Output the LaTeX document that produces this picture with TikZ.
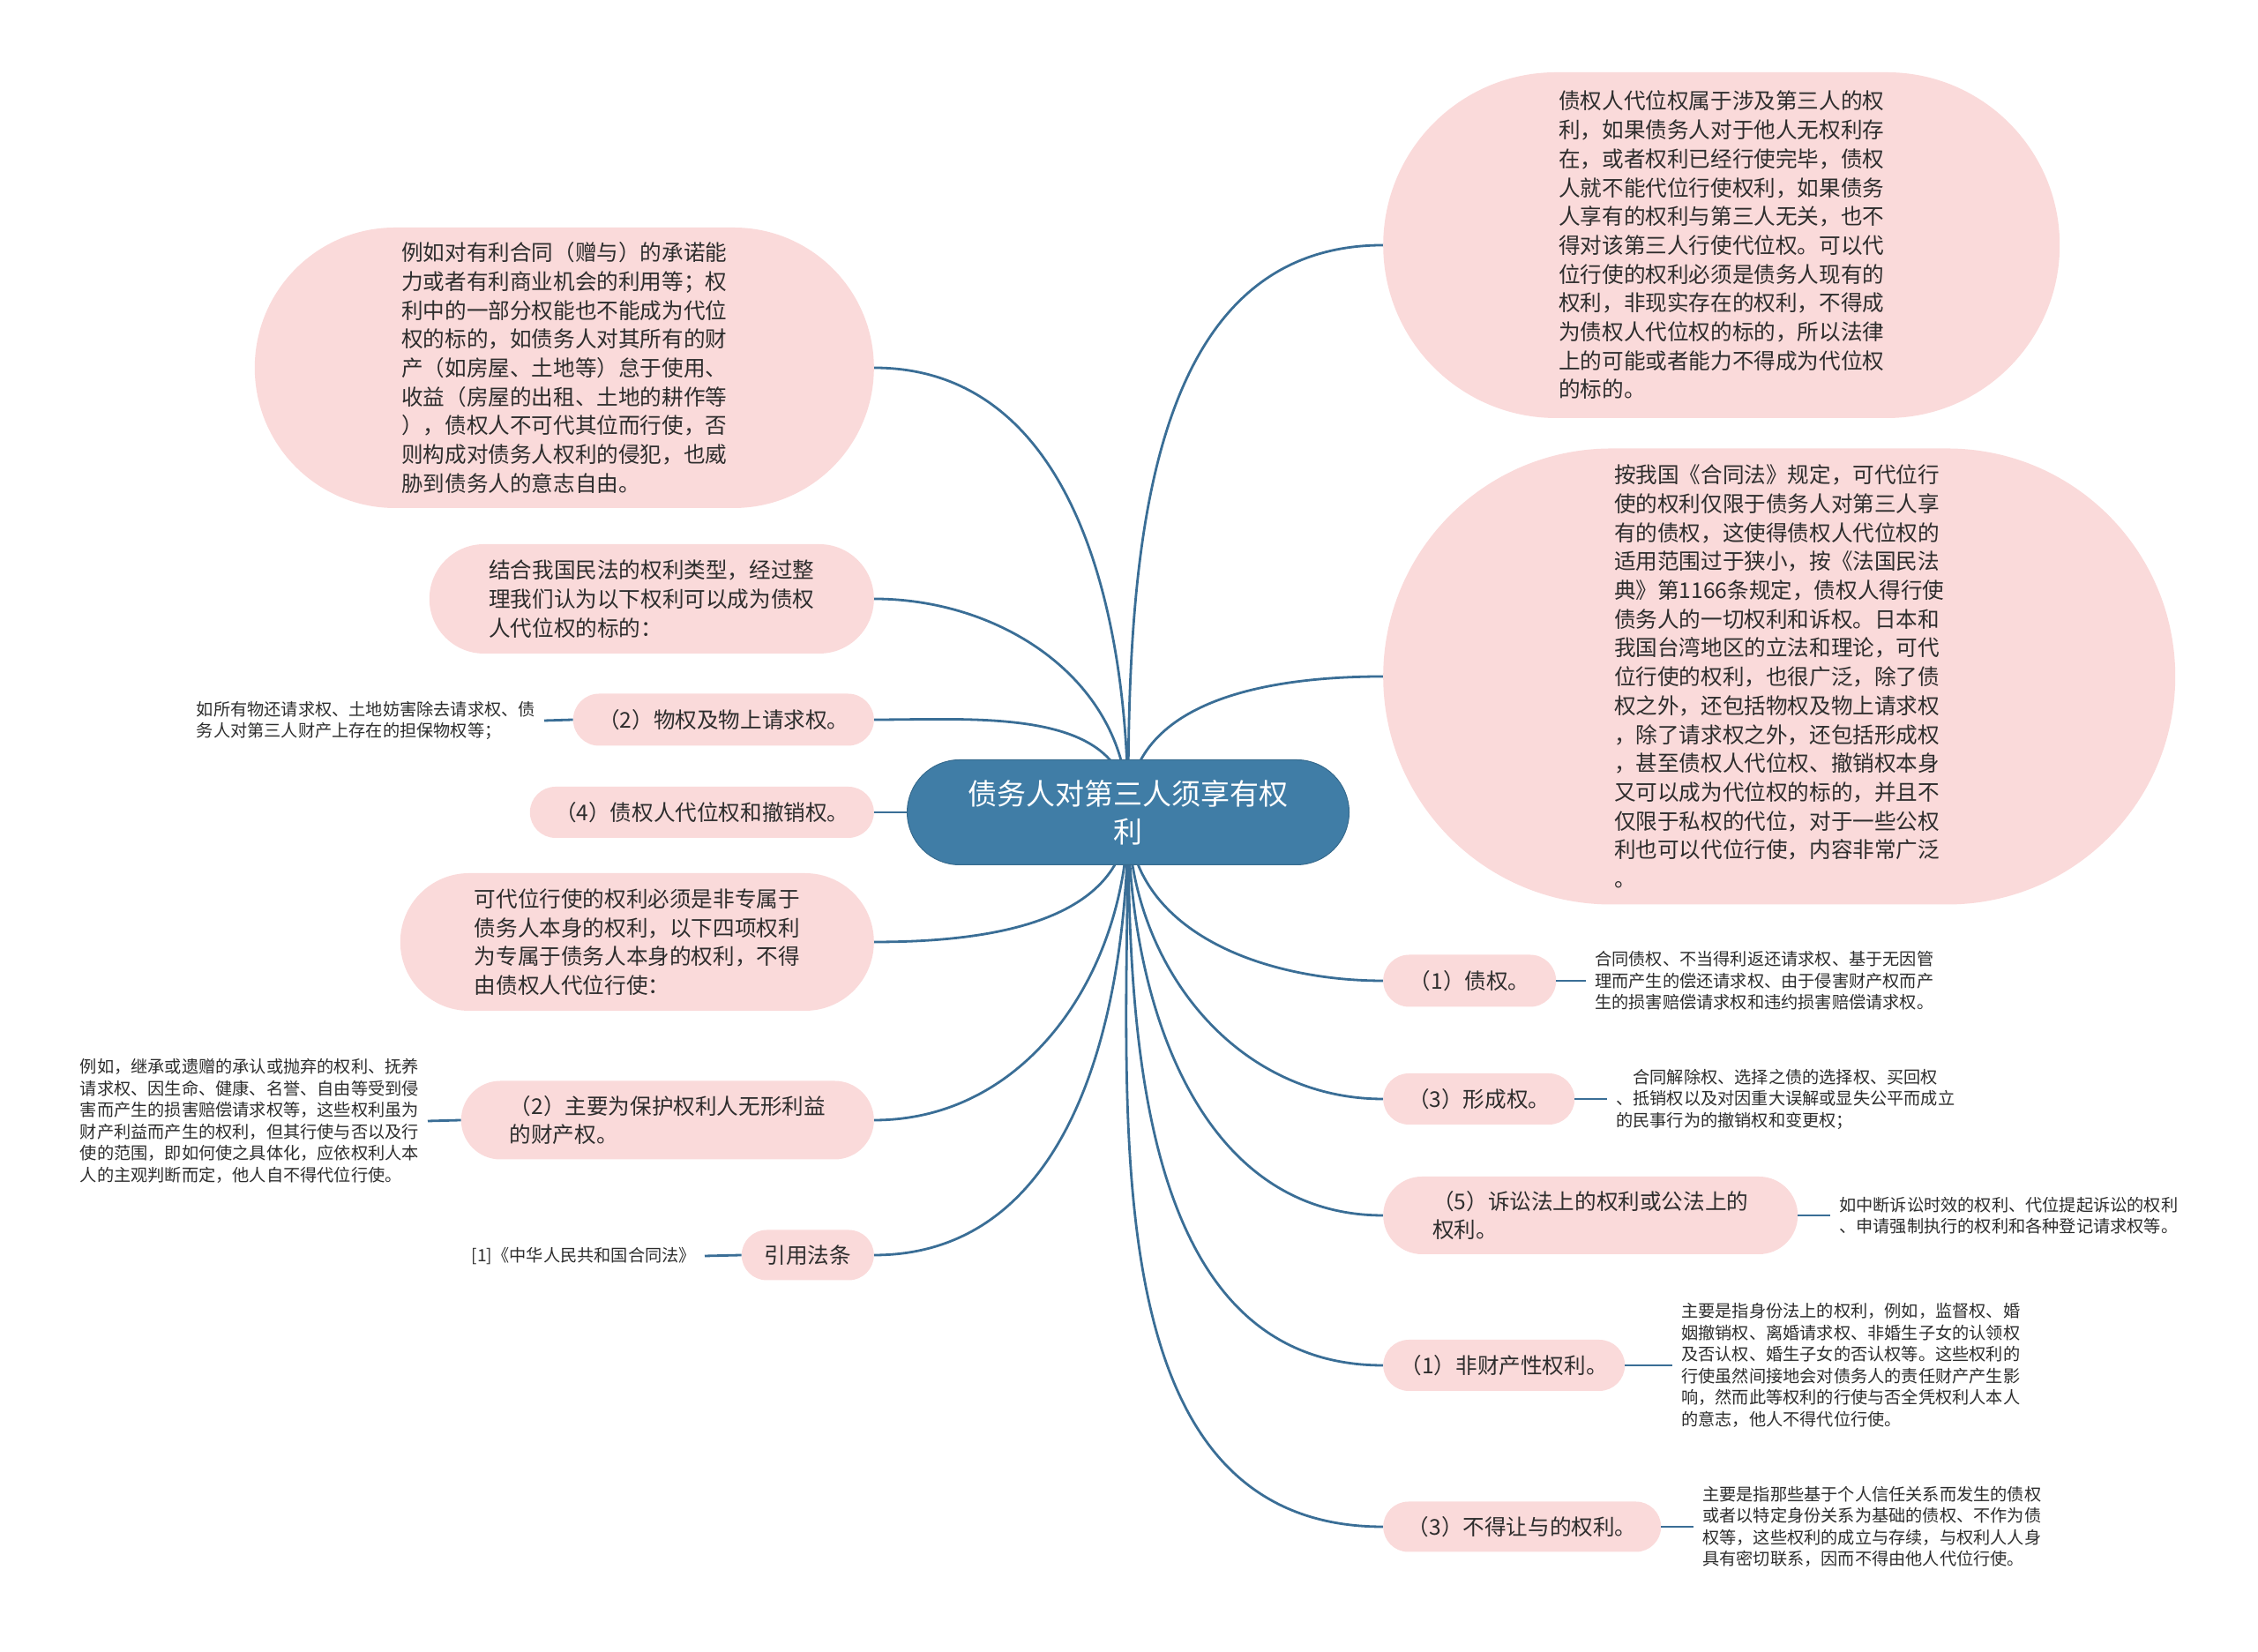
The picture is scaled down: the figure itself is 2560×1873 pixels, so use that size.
\documentclass[tikz,border=0pt]{standalone}
\usepackage{fontspec}
\setmainfont{Noto Sans CJK SC}
\usetikzlibrary{shapes.misc,positioning,backgrounds}
\definecolor{rootblue}{RGB}{64,125,166}
\definecolor{linkblue}{RGB}{58,110,150}
\definecolor{topicpink}{RGB}{250,218,218}
\definecolor{textgray}{RGB}{45,45,45}

\begin{document}
\begin{tikzpicture}[x=1pt,y=1pt,
  rootbox/.style={rounded rectangle,fill=rootblue,draw=rootblue!85!black,line width=1pt,text=white,
                  align=center,inner sep=0pt,minimum width=501pt,minimum height=119pt,
                  font=\fontsize{33}{43}\selectfont},
  topicbox/.style={rounded rectangle,fill=topicpink,text=textgray,align=left,inner sep=0pt,
                   font=\fontsize{24.6}{32.7}\selectfont},
  boxsize/.style 2 args={minimum width=#1pt,minimum height=#2pt},
  notetext/.style={text=textgray,align=left,inner xsep=10pt,inner ysep=0pt,
                   font=\fontsize{19.2}{24.5}\selectfont},
  link/.style={draw=linkblue,line width=2.8pt}
]
  \useasboundingbox (0,0) rectangle (2560,1873);
  % Central topic
  \node[rootbox] (root) at (1279,952) {债务人对第三人须享有权\\利};
  % Left branches
  \node[topicbox,boxsize={702}{318},anchor=east] (limit) at (991,1456)
    {例如对有利合同（赠与）的承诺能\\力或者有利商业机会的利用等；权\\利中的一部分权能也不能成为代位\\权的标的，如债务人对其所有的财\\产（如房屋、土地等）怠于使用、\\收益（房屋的出租、土地的耕作等\\），债权人不可代其位而行使，否\\则构成对债务人权利的侵犯，也威\\胁到债务人的意志自由。};
  \node[topicbox,boxsize={504}{124},anchor=east] (sorted) at (991,1194)
    {结合我国民法的权利类型，经过整\\理我们认为以下权利可以成为债权\\人代位权的标的：};
  \node[topicbox,boxsize={341}{59},anchor=east] (realright) at (991,1057) {（2）物权及物上请求权。};
  \node[topicbox,boxsize={390}{58},anchor=east] (revoke) at (991,952) {（4）债权人代位权和撤销权。};
  \node[topicbox,boxsize={537}{156},anchor=east] (personal) at (991,805)
    {可代位行使的权利必须是非专属于\\债务人本身的权利，以下四项权利\\为专属于债务人本身的权利，不得\\由债权人代位行使：};
  \node[topicbox,boxsize={468}{89},anchor=east] (intangible) at (991,603)
    {（2）主要为保护权利人无形利益\\的财产权。};
  \node[topicbox,boxsize={150}{57},anchor=east] (cite) at (991,450) {引用法条};
  % Right branches
  \node[topicbox,boxsize={767}{392},anchor=west] (thirdparty) at (1568,1595)
    {债权人代位权属于涉及第三人的权\\利，如果债务人对于他人无权利存\\在，或者权利已经行使完毕，债权\\人就不能代位行使权利，如果债务\\人享有的权利与第三人无关，也不\\得对该第三人行使代位权。可以代\\位行使的权利必须是债务人现有的\\权利，非现实存在的权利，不得成\\为债权人代位权的标的，所以法律\\上的可能或者能力不得成为代位权\\的标的。};
  \node[topicbox,boxsize={898}{517},anchor=west] (range) at (1568,1106)
    {按我国《合同法》规定，可代位行\\使的权利仅限于债务人对第三人享\\有的债权，这使得债权人代位权的\\适用范围过于狭小，按《法国民法\\典》第1166条规定，债权人得行使\\债务人的一切权利和诉权。日本和\\我国台湾地区的立法和理论，可代\\位行使的权利，也很广泛，除了债\\权之外，还包括物权及物上请求权\\，除了请求权之外，还包括形成权\\，甚至债权人代位权、撤销权本身\\又可以成为代位权的标的，并且不\\仅限于私权的代位，对于一些公权\\利也可以代位行使，内容非常广泛\\。};
  \node[topicbox,boxsize={196}{59},anchor=west] (claim) at (1568,761) {（1）债权。};
  \node[topicbox,boxsize={217}{58},anchor=west] (formative) at (1568,627) {（3）形成权。};
  \node[topicbox,boxsize={470}{88},anchor=west] (procedural) at (1568,495)
    {（5）诉讼法上的权利或公法上的\\权利。};
  \node[topicbox,boxsize={274}{58},anchor=west] (nonproperty) at (1568,325) {（1）非财产性权利。};
  \node[topicbox,boxsize={315}{57},anchor=west] (nontransfer) at (1568,142) {（3）不得让与的权利。};
  % Notes
  \node[notetext,anchor=east] (realnote) at (617,1056)
    {如所有物还请求权、土地妨害除去请求权、债\\务人对第三人财产上存在的担保物权等；};
  \node[notetext,anchor=east] (intangnote) at (485,602)
    {例如，继承或遗赠的承认或抛弃的权利、抚养\\请求权、因生命、健康、名誉、自由等受到侵\\害而产生的损害赔偿请求权等，这些权利虽为\\财产利益而产生的权利，但其行使与否以及行\\使的范围，即如何使之具体化，应依权利人本\\人的主观判断而定，他人自不得代位行使。};
  \node[notetext,anchor=east] (citenote) at (799,449) {[1]《中华人民共和国合同法》};
  \node[notetext,anchor=west] (claimnote) at (1798,761)
    {合同债权、不当得利返还请求权、基于无因管\\理而产生的偿还请求权、由于侵害财产权而产\\生的损害赔偿请求权和违约损害赔偿请求权。};
  \node[notetext,anchor=west] (formnote) at (1822,627)
    {\hspace*{1em}合同解除权、选择之债的选择权、买回权\\、抵销权以及对因重大误解或显失公平而成立\\的民事行为的撤销权和变更权；};
  \node[notetext,anchor=west] (procnote) at (2075,495)
    {如中断诉讼时效的权利、代位提起诉讼的权利\\、申请强制执行的权利和各种登记请求权等。};
  \node[notetext,anchor=west] (nonpropnote) at (1896,325)
    {主要是指身份法上的权利，例如，监督权、婚\\姻撤销权、离婚请求权、非婚生子女的认领权\\及否认权、婚生子女的否认权等。这些权利的\\行使虽然间接地会对债务人的责任财产产生影\\响，然而此等权利的行使与否全凭权利人本人\\的意志，他人不得代位行使。};
  \node[notetext,anchor=west] (nontransnote) at (1920,142)
    {主要是指那些基于个人信任关系而发生的债权\\或者以特定身份关系为基础的债权、不作为债\\权等，这些权利的成立与存续，与权利人人身\\具有密切联系，因而不得由他人代位行使。};
  % Branch lines, from the centre, behind the boxes
  \begin{scope}[on background layer]
    \draw[link] (root.center) to[out=90,in=0] (limit.east);
    \draw[link] (root.center) to[out=90,in=0] (sorted.east);
    \draw[link] (root.center) to[out=90,in=0] (realright.east);
    \draw[link] (root.center) -- (revoke.east);
    \draw[link] (root.center) to[out=-90,in=0] (personal.east);
    \draw[link] (root.center) to[out=-90,in=0] (intangible.east);
    \draw[link] (root.center) to[out=-90,in=0] (cite.east);
    \draw[link] (root.center) to[out=90,in=180] (thirdparty.west);
    \draw[link] (root.center) to[out=90,in=180] (range.west);
    \draw[link] (root.center) to[out=-90,in=180] (claim.west);
    \draw[link] (root.center) to[out=-90,in=180] (formative.west);
    \draw[link] (root.center) to[out=-90,in=180] (procedural.west);
    \draw[link] (root.center) to[out=-90,in=180] (nonproperty.west);
    \draw[link] (root.center) to[out=-90,in=180] (nontransfer.west);
  \end{scope}
  % Note lines
  \draw[link] (realright.west) -- (realnote.east);
  \draw[link] (intangible.west) -- (intangnote.east);
  \draw[link] (cite.west) -- (citenote.east);
  \draw[link] (claim.east) -- (claimnote.west);
  \draw[link] (formative.east) -- (formnote.west);
  \draw[link] (procedural.east) -- (procnote.west);
  \draw[link] (nonproperty.east) -- (nonpropnote.west);
  \draw[link] (nontransfer.east) -- (nontransnote.west);
\end{tikzpicture}
\end{document}
